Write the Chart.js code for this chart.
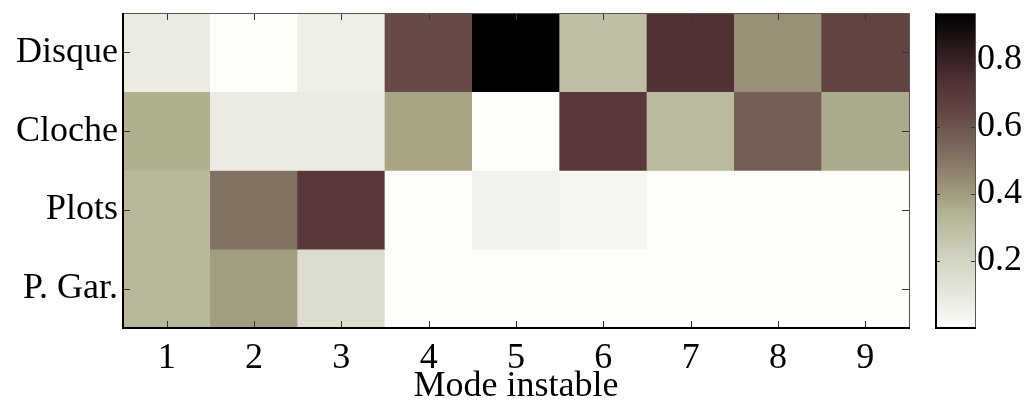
<!DOCTYPE html>
<html>
<head>
<meta charset="utf-8">
<script src="https://cdn.jsdelivr.net/npm/chart.js@4"></script>
<style>
  html, body { margin: 0; padding: 0; background: #fff; }
  #wrap { position: relative; width: 1034px; height: 405px; }
  #heat { position: absolute; left: 0; top: 0; }
  #cbar { position: absolute; left: 930px; top: 0; }
</style>
</head>
<body>
<div id="wrap">
  <canvas id="heat" width="930" height="405"></canvas>
  <canvas id="cbar" width="104" height="405"></canvas>
</div>
<script>
// ----- DATA -----
const modes = ["1", "2", "3", "4", "5", "6", "7", "8", "9"];
const rowNames = ["Disque", "Cloche", "Plots", "P. Gar."]; // top to bottom

const disque = [0.08, 0.005, 0.07, 0.63, 0.94, 0.29, 0.73, 0.43, 0.66];
const cloche = [0.35, 0.08, 0.08, 0.38, 0.005, 0.70, 0.31, 0.57, 0.36];
const plots  = [0.32, 0.51, 0.70, 0.005, 0.05, 0.035, 0.005, 0.005, 0.005];
const pGar   = [0.32, 0.40, 0.16, 0.005, 0.005, 0.005, 0.005, 0.005, 0.005];

const colorbarTicks = [0.2, 0.4, 0.6, 0.8];
const cMin = 0;
const cMax = 0.94;

// colormap (white -> olive -> brown -> black)
const cmapStops  = [0.00, 0.05, 0.10, 0.17, 0.30, 0.35, 0.40, 0.50, 0.57, 0.63, 0.70, 0.75, 0.85, 0.94];
const cmapColors = ["#fefefb", "#f2f2ec", "#e7e7de", "#dadbcc", "#bdbda4", "#b0af90", "#a29c80",
                    "#857565", "#735f55", "#674b46", "#58383b", "#4b2e31", "#241616", "#000000"];

const FONT = { family: "'Liberation Serif', 'Times New Roman', serif", size: 36 };

// ----- HELPERS -----
function hexToRgb(h) {
  const n = parseInt(h.slice(1), 16);
  return [(n >> 16) & 255, (n >> 8) & 255, n & 255];
}

// map a value to a colour from the colormap
function colorFor(v) {
  if (v <= cmapStops[0]) return cmapColors[0];
  for (let i = 1; i < cmapStops.length; i++) {
    if (v <= cmapStops[i]) {
      const t = (v - cmapStops[i - 1]) / (cmapStops[i] - cmapStops[i - 1]);
      const a = hexToRgb(cmapColors[i - 1]), b = hexToRgb(cmapColors[i]);
      const c = a.map((x, k) => Math.round(x + (b[k] - x) * t));
      return `rgb(${c[0]},${c[1]},${c[2]})`;
    }
  }
  return cmapColors[cmapColors.length - 1];
}

// no extra room for half labels at the ends, the plot box is fixed
function noPad(s) {
  s.paddingTop = 0; s.paddingBottom = 0;
  s.paddingLeft = 0; s.paddingRight = 0;
}

// box + inward ticks, drawn over the cells
const framePlugin = {
  id: "frame",
  afterDatasetsDraw(chart, args, opts) {
    const { ctx, chartArea: a } = chart;
    const L = opts.tick;
    ctx.save();
    ctx.strokeStyle = "#333";
    ctx.lineWidth = 1;
    ctx.beginPath();
    if (opts.xTicks) {
      const xs = chart.scales.x;
      xs.ticks.forEach((t, i) => {
        const px = Math.round(xs.getPixelForTick(i)) + 0.5;
        ctx.moveTo(px, a.top); ctx.lineTo(px, a.top + L);
        ctx.moveTo(px, a.bottom); ctx.lineTo(px, a.bottom - L);
      });
    }
    const ys = chart.scales.y;
    ys.ticks.forEach(t => {
      const py = Math.round(ys.getPixelForValue(t.value)) + 0.5;
      ctx.moveTo(a.left, py); ctx.lineTo(a.left + L, py);
      ctx.moveTo(a.right, py); ctx.lineTo(a.right - L, py);
    });
    ctx.stroke();
    // top/right thinner, left/bottom heavier (like the original)
    ctx.strokeStyle = "#555";
    ctx.lineWidth = 1;
    ctx.beginPath();
    ctx.moveTo(a.left, a.top + 0.5); ctx.lineTo(a.right + 0.5, a.top + 0.5); ctx.lineTo(a.right + 0.5, a.bottom);
    ctx.stroke();
    ctx.strokeStyle = "#000";
    ctx.lineWidth = 2;
    ctx.beginPath();
    ctx.moveTo(a.left, a.top); ctx.lineTo(a.left, a.bottom); ctx.lineTo(a.right + 1, a.bottom);
    ctx.stroke();
    ctx.restore();
  }
};

// ----- HEATMAP -----
const rowData = [disque, cloche, plots, pGar];
const datasets = rowData.map((vals, i) => {
  const yc = rowNames.length - i;
  return {
    label: rowNames[i],
    data: vals.map(() => [yc - 0.5, yc + 0.5]),
    backgroundColor: vals.map(colorFor),
    borderWidth: 0,
    barPercentage: 1,
    categoryPercentage: 1,
    grouped: false
  };
});

new Chart(document.getElementById("heat"), {
  type: "bar",
  data: { labels: modes, datasets },
  options: {
    responsive: false,
    animation: false,
    layout: { padding: { top: 13, right: 21, left: 0, bottom: 0 } },
    plugins: {
      legend: { display: false },
      tooltip: { enabled: false },
      frame: { tick: 7, xTicks: true }
    },
    scales: {
      x: {
        type: "category",
        grid: { display: false },
        border: { display: false },
        ticks: { color: "#000", font: FONT, padding: 1, maxRotation: 0 },
        title: {
          display: true, text: "Mode instable", color: "#000",
          font: { ...FONT, lineHeight: 1 }, padding: { top: -3, bottom: 0 }
        },
        afterFit: s => { s.height = 77; noPad(s); }
      },
      y: {
        type: "linear",
        min: 0.5,
        max: 4.5,
        grid: { display: false, drawTicks: false },
        border: { display: false },
        afterBuildTicks: s => { s.ticks = [1, 2, 3, 4].map(v => ({ value: v })); },
        ticks: {
          color: "#000", font: FONT, padding: 5,
          callback: v => rowNames[rowNames.length - v]
        },
        afterFit: s => { s.width = 123; noPad(s); }
      }
    }
  },
  plugins: [framePlugin]
});

// ----- COLORBAR -----
new Chart(document.getElementById("cbar"), {
  type: "bar",
  data: {
    labels: [""],
    datasets: [{
      data: [[cMin, cMax]],
      borderWidth: 0,
      barPercentage: 1,
      categoryPercentage: 1,
      backgroundColor: c => {
        const ch = c.chart;
        if (!ch.chartArea) return "#888";
        const ys = ch.scales.y;
        const g = ch.ctx.createLinearGradient(0, ys.getPixelForValue(cMin), 0, ys.getPixelForValue(cMax));
        cmapStops.forEach((v, i) => g.addColorStop((v - cMin) / (cMax - cMin), cmapColors[i]));
        return g;
      }
    }]
  },
  options: {
    responsive: false,
    animation: false,
    layout: { padding: { top: 13, left: 6, bottom: 77, right: 0 } },
    plugins: {
      legend: { display: false },
      tooltip: { enabled: false },
      frame: { tick: 4, xTicks: false }
    },
    scales: {
      x: { display: false },
      y: {
        position: "right",
        min: cMin,
        max: cMax,
        grid: { display: false, drawTicks: false },
        border: { display: false },
        afterBuildTicks: s => { s.ticks = colorbarTicks.map(v => ({ value: v })); },
        ticks: { color: "#000", font: FONT, padding: 2, callback: v => v.toFixed(1) },
        afterFit: s => { s.width = 59; noPad(s); }
      }
    }
  },
  plugins: [framePlugin]
});
</script>
</body>
</html>
